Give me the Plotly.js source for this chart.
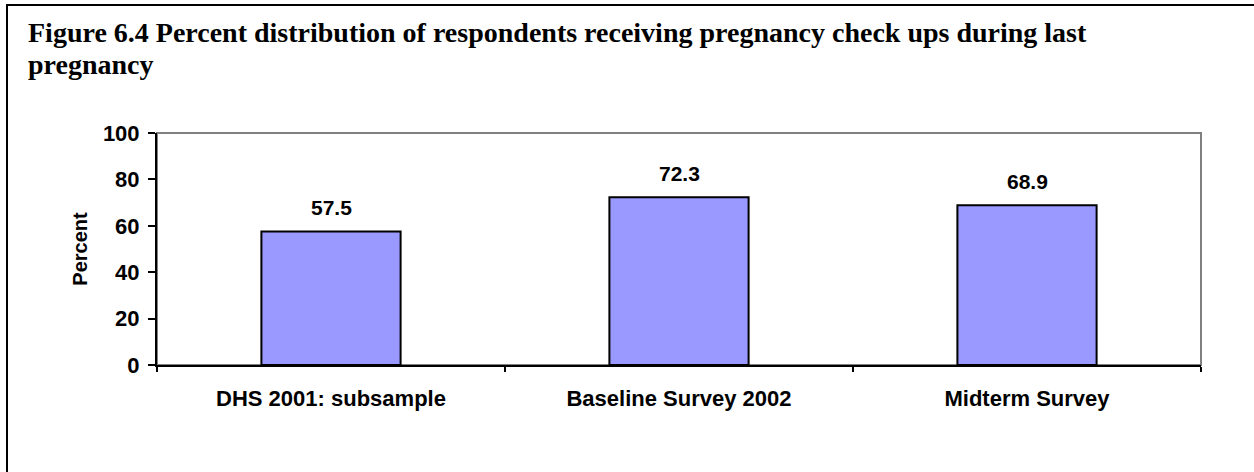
<!DOCTYPE html>
<html>
<head>
<meta charset="utf-8">
<script src="https://cdn.plot.ly/plotly-3.0.1.min.js"></script>
<style>
  html, body { margin: 0; padding: 0; background: #fff; }
  #wrap { position: relative; width: 1254px; height: 472px; overflow: hidden; }
  #chart { width: 1254px; height: 472px; }
  #frame { position: absolute; top: 4px; left: 6px; right: -4px; bottom: -4px;
           border-top: 2px solid #000; border-left: 2px solid #000; pointer-events: none; }
</style>
</head>
<body>
<div id="wrap">
  <div id="chart"></div>
  <div id="frame"></div>
</div>
<script>
const categories = ["DHS 2001: subsample", "Baseline Survey 2002", "Midterm Survey"];
const percentValues = [57.5, 72.3, 68.9];
const valueLabels = ["57.5", "72.3", "68.9"];
const yTickValues = [0, 20, 40, 60, 80, 100];
const titleLines = ["Figure 6.4 Percent distribution of respondents receiving pregnancy check ups during last", "pregnancy"];
const yTitle = "Percent";

const sans = "Liberation Sans, Arial, sans-serif";
const serif = "Liberation Serif, Times New Roman, serif";

// plot area in pixels (for placing the title text in paper units)
const PL = 157, PR = 1201, PT = 133, PB = 365;
const toPaperX = px => (px - PL) / (PR - PL);
const toPaperY = py => (PB - py) / (PB - PT);

const trace = {
  type: "bar",
  x: categories,
  y: percentValues,
  marker: { color: "#9999FF", line: { color: "#000000", width: 2 } },
  hoverinfo: "skip"
};

const valueAnnotations = categories.map((c, i) => ({
  x: c, y: percentValues[i], xref: "x", yref: "y",
  text: valueLabels[i], showarrow: false,
  yanchor: "middle", yshift: 24,
  font: { family: sans, size: 21, color: "#000", weight: "bold" }
}));

const titleCenters = [33, 64];
const titleAnnotations = titleLines.map((t, i) => ({
  xref: "paper", yref: "paper",
  x: toPaperX(26), xanchor: "left",
  y: toPaperY(titleCenters[i]), yanchor: "middle",
  text: t, showarrow: false, align: "left",
  font: { family: serif, size: 28, color: "#000", weight: "bold" }
}));

const layout = {
  width: 1254, height: 472,
  margin: { l: 157, r: 53, t: 133, b: 107 },
  paper_bgcolor: "#ffffff",
  plot_bgcolor: "#ffffff",
  showlegend: false,
  bargap: 0.6,
  xaxis: {
    type: "category",
    showline: true, linecolor: "#000", linewidth: 2,
    ticks: "outside", tickson: "boundaries", ticklen: 5, tickwidth: 2, tickcolor: "#000",
    ticklabelstandoff: 13,
    tickfont: { family: sans, size: 22, color: "#000", weight: "bold" },
    showgrid: false, zeroline: false, fixedrange: true
  },
  yaxis: {
    range: [0, 100],
    tickvals: yTickValues,
    showline: true, linecolor: "#000", linewidth: 2,
    ticks: "outside", ticklen: 7, tickwidth: 2, tickcolor: "#000",
    ticklabelstandoff: 4,
    tickfont: { family: sans, size: 22, color: "#000", weight: "bold" },
    showgrid: false, zeroline: false, fixedrange: true,
    title: { text: yTitle, standoff: 10,
             font: { family: sans, size: 20, color: "#000", weight: "bold" } }
  },
  shapes: [{
    type: "rect", xref: "paper", yref: "paper",
    x0: 0, x1: 1, y0: 0, y1: 1,
    line: { color: "#808080", width: 2 }, layer: "below"
  }],
  annotations: titleAnnotations.concat(valueAnnotations)
};

Plotly.newPlot("chart", [trace], layout, { displayModeBar: false, staticPlot: true });
</script>
</body>
</html>
